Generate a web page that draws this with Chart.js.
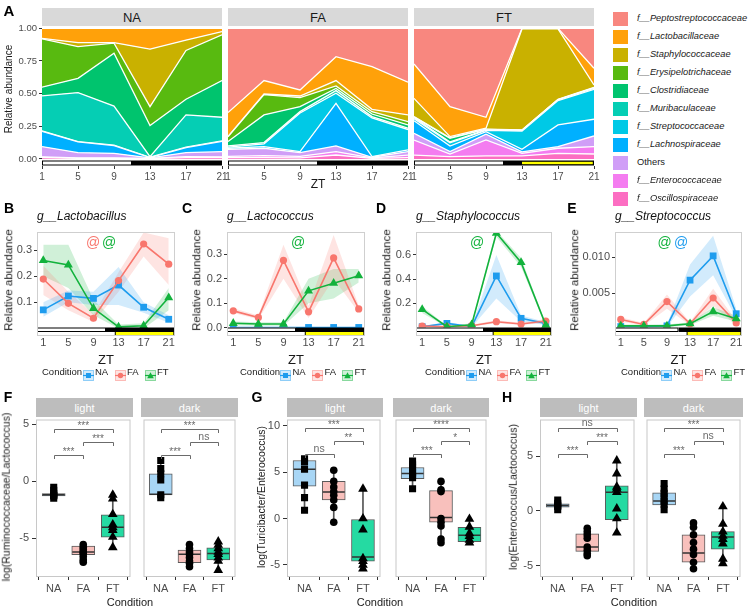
<!DOCTYPE html>
<html>
<head>
<meta charset="utf-8">
<script src="https://cdn.jsdelivr.net/npm/chart.js@4.4.1/dist/chart.umd.min.js"></script>
<style>
html,body{margin:0;padding:0;background:#fff;}
body{width:750px;height:608px;position:relative;overflow:hidden;font-family:"Liberation Sans",Arial,sans-serif;}
.t{position:absolute;white-space:nowrap;line-height:1;}
canvas{position:absolute;}
.strip{position:absolute;display:flex;align-items:center;justify-content:center;white-space:nowrap;}
</style>
</head>
<body>
<script>
// ================= DATA =================
const ZT = [1, 5, 9, 13, 17, 21];
const conditions = ['NA', 'FA', 'FT'];
const families = ['f__Peptostreptococcaceae','f__Lactobacillaceae','f__Staphylococcaceae','f__Erysipelotrichaceae','f__Clostridiaceae','f__Muribaculaceae','f__Streptococcaceae','f__Lachnospiraceae','Others','f__Enterococcaceae','f__Oscillospiraceae'];

// Panel A: relative abundance per family (same order as families) at each ZT
const abundNA = [
  [0,0,0,0,0,0],
  [0.077,0.11,0.11,0.16,0.09,0.025],
  [0.004,0.03,0.004,0.44,0.08,0.025],
  [0.37,0.243,0.076,0.145,0.373,0.35],
  [0.066,0.109,0.405,0.237,0.12,0.281],
  [0.268,0.375,0.30,0.005,0.247,0.181],
  [0.004,0.003,0.003,0.002,0.003,0.003],
  [0.116,0.082,0.059,0.003,0.039,0.079],
  [0.079,0.04,0.035,0.003,0.03,0.04],
  [0.005,0.004,0.004,0.002,0.008,0.006],
  [0.011,0.004,0.004,0.003,0.01,0.01]
];
const abundFA = [
  [0.645,0.40,0.472,0.217,0.293,0.413],
  [0.184,0.103,0.046,0.183,0.327,0.25],
  [0.002,0.005,0.012,0.041,0.018,0.051],
  [0.036,0.155,0.07,0.019,0.018,0.026],
  [0.033,0.212,0.038,0.017,0.02,0.025],
  [0.01,0.01,0.01,0.02,0.01,0.01],
  [0.008,0.021,0.296,0.077,0.296,0.156],
  [0.008,0.012,0.008,0.326,0.005,0.013],
  [0.054,0.057,0.028,0.044,0.005,0.026],
  [0.01,0.015,0.012,0.026,0.004,0.02],
  [0.01,0.01,0.008,0.03,0.004,0.01]
];
const abundFT = [
  [0.273,0.60,0.681,0,0,0.306],
  [0.263,0.229,0.084,0.005,0.005,0.128],
  [0.14,0.009,0.007,0.773,0.538,0.018],
  [0.004,0.004,0.002,0.002,0.003,0.004],
  [0.004,0.028,0.003,0.002,0.002,0.003],
  [0.008,0.006,0.004,0.004,0.005,0.008],
  [0.015,0.025,0.01,0.14,0.187,0.229],
  [0.097,0.043,0.019,0.02,0.166,0.128],
  [0.051,0.018,0.045,0.011,0.012,0.082],
  [0.115,0.02,0.122,0.02,0.039,0.056],
  [0.03,0.018,0.023,0.023,0.043,0.038]
];
const abundTicks = [0, 0.25, 0.5, 0.75, 1];

// Light / dark bars (ZT)
const lightSpanA = [1, 11], darkSpanA = [11, 21], yellowSpanA = [13, 21];
const lightSpan = [0, 11], darkSpan = [11, 22], yellowSpan = [12.4, 21.9];

// Panels B-E: mean and ribbon (rows: NA, FA, FT)
const lactobacillusMean = [[0.071,0.124,0.115,0.166,0.081,0.035],[0.189,0.096,0.039,0.183,0.323,0.246],[0.26,0.243,0.077,0.006,0.01,0.118]];
const lactobacillusLow  = [[0.045,0.1,0.09,0.09,0.06,0.022],[0.128,0.07,0.025,0.14,0.275,0.166],[0.2,0.155,0.05,0.0,0.0,0.07]];
const lactobacillusHigh = [[0.1,0.145,0.14,0.235,0.1,0.05],[0.24,0.14,0.055,0.215,0.367,0.345],[0.32,0.32,0.11,0.015,0.02,0.155]];
const lactobacillusTicks = ['0.1','0.2','0.3'];

const lactococcusMean = [[0.001,0.001,0.001,0.001,0.001,0.001],[0.069,0.042,0.276,0.065,0.286,0.077],[0.018,0.015,0.015,0.151,0.182,0.213]];
const lactococcusLow  = [[0.0,0.0,0.0,0.0,0.0,0.0],[0.06,0.035,0.2,0.04,0.2,0.062],[0.01,0.008,0.008,0.1,0.12,0.185]];
const lactococcusHigh = [[0.002,0.002,0.002,0.002,0.002,0.002],[0.08,0.05,0.34,0.09,0.38,0.09],[0.025,0.022,0.022,0.2,0.24,0.24]];
const lactococcusTicks = ['0.0','0.1','0.2','0.3'];

const staphylococcusMean = [[0.007,0.034,0.007,0.426,0.076,0.034],[0.012,0.007,0.015,0.048,0.029,0.054],[0.15,0.007,0.023,0.78,0.537,0.02]];
const staphylococcusLow  = [[0.002,0.02,0.002,0.24,0.05,0.02],[0.005,0.002,0.008,0.035,0.02,0.04],[0.12,0.002,0.01,0.75,0.5,0.01]];
const staphylococcusHigh = [[0.012,0.045,0.012,0.6,0.1,0.045],[0.02,0.012,0.022,0.06,0.04,0.07],[0.175,0.012,0.035,0.8,0.575,0.03]];
const staphylococcusTicks = ['0.2','0.4','0.6'];

const streptococcusMean = [[0.0003,0.0003,0.0004,0.0068,0.0102,0.0021],[0.0013,0.0006,0.0038,0.0007,0.0043,0.0008],[0.0004,0.0004,0.0004,0.0007,0.0024,0.0014]];
const streptococcusLow  = [[0.0001,0.0001,0.0002,0.0045,0.0075,0.0015],[0.001,0.0004,0.0028,0.0005,0.0032,0.0005],[0.0002,0.0002,0.0002,0.0005,0.0018,0.001]];
const streptococcusHigh = [[0.0005,0.0005,0.0006,0.009,0.013,0.0028],[0.0016,0.0008,0.0048,0.0009,0.0056,0.0011],[0.0006,0.0006,0.0006,0.0009,0.003,0.0018]];
const streptococcusTicks = ['0.005','0.010'];

// Panels F-H: box stats [lower whisker, q1, median, q3, upper whisker] per condition, and points
const sigPairs = [[1,2],[2,3],[1,3]];
const rumLacLightStats = [[-1.5,-1.3,-1.2,-1.1,-0.55],[-7.1,-6.45,-6.2,-5.7,-5.55],[-5.8,-4.9,-4.05,-2.95,-1.2]];
const rumLacLightPts = [[-0.55,-0.8,-1.1,-1.2,-1.25,-1.3,-1.5],[-5.55,-5.8,-6.0,-6.2,-6.35,-6.6,-6.9,-7.1],[-1.2,-1.55,-2.9,-3.8,-4.05,-4.3,-4.9,-5.8]];
const rumLacDarkStats = [[-1.45,-1.2,-1.15,0.65,1.8],[-7.5,-7.15,-6.4,-6.05,-5.55],[-7.8,-6.9,-6.35,-5.85,-5.3]];
const rumLacDarkPts = [[1.8,1.1,0.65,0.1,-1.2,-1.45],[-5.55,-5.9,-6.2,-6.4,-6.7,-7.0,-7.2,-7.5],[-5.3,-5.6,-5.9,-6.2,-6.4,-6.7,-7.0,-7.8]];
const rumLacSigY = [2.3, 3.4, 4.6];
const rumLacLightSig = ['***','***','***'];
const rumLacDarkSig = ['***','ns','***'];
const rumLacTicks = [-5, 0, 5];

const turEntLightStats = [[0.9,3.5,5.3,6.25,6.45],[-0.4,2.0,2.85,4.0,5.2],[-5.4,-4.6,-4.15,-0.1,3.2]];
const turEntLightPts = [[6.45,6.1,5.3,3.6,2.25,0.9],[5.2,4.0,3.4,2.9,2.5,2.0,1.2,-0.4],[3.2,0.0,-1.2,-4.3,-4.6,-5.0,-5.4]];
const turEntDarkStats = [[3.2,4.3,4.85,5.5,6.2],[-2.6,-0.4,0.1,3.0,4.0],[-2.7,-2.5,-1.8,-0.95,-0.05]];
const turEntDarkPts = [[6.2,5.8,5.5,5.0,4.7,4.4,3.2],[4.0,3.1,2.9,0.0,-0.4,-0.8,-2.2,-2.6],[-0.05,-0.9,-1.6,-1.9,-2.3,-2.6]];
const turEntSigY = [6.95, 8.3, 9.8];
const turEntLightSig = ['ns','**','***'];
const turEntDarkSig = ['***','*','****'];
const turEntTicks = [-5, 0, 5, 10];

const entLacLightStats = [[0.1,0.35,0.5,0.65,1.0],[-4.1,-3.7,-3.3,-2.1,-1.6],[-2.0,-0.8,1.7,2.3,4.6]];
const entLacLightPts = [[1.0,0.7,0.5,0.4,0.1],[-1.6,-1.9,-2.2,-2.5,-3.3,-3.6,-3.9,-4.1],[4.6,3.4,2.2,2.0,1.7,0.2,-0.7,-2.0]];
const entLacDarkStats = [[0.1,0.55,0.9,1.65,2.5],[-5.3,-4.7,-3.85,-2.2,-1.1],[-4.8,-3.5,-2.4,-1.9,0.4]];
const entLacDarkPts = [[2.5,2.0,1.6,1.3,0.9,0.6,0.1],[-1.1,-1.5,-2.2,-2.9,-3.5,-4.0,-4.7,-5.3],[0.4,-1.2,-1.9,-2.3,-2.6,-3.0,-4.4,-4.8]];
const entLacSigY = [5.2, 6.35, 7.55];
const entLacLightSig = ['***','***','ns'];
const entLacDarkSig = ['***','ns','***'];
const entLacTicks = [-5, 0, 5];

// ================= STYLES =================
const familyColors = ['#F8877F','#FFA10A','#C9B100','#58BA10','#00C46E','#05CEB4','#00C9E6','#00B0FF','#D09EF7','#F47CF0','#FC6EC2'];
const condColors = ['#1E9CEE','#F8766D','#12B23C'];
const condFill = ['rgba(30,156,238,0.2)','rgba(248,118,109,0.2)','rgba(18,178,60,0.2)'];
const condShapes = ['rect','circle','triangle'];
const condRadius = [4.8,3.6,5.2];
const boxFills = ['#A8D6F5','#F8C0BC','#25DAA2'];

Chart.defaults.font.family = '"Liberation Sans", Arial, sans-serif';
Chart.defaults.color = '#4D4D4D';

// ================= HELPERS =================
function txt(s, x, y, o = {}) {
  const d = document.createElement('div');
  d.className = 't';
  d.textContent = s;
  d.style.left = x + 'px'; d.style.top = y + 'px';
  d.style.fontSize = (o.size || 11) + 'px';
  if (o.bold) d.style.fontWeight = 'bold';
  if (o.italic) d.style.fontStyle = 'italic';
  d.style.color = o.color || '#000';
  const a = o.anchor || 'l';
  let tf = a === 'c' ? 'translate(-50%,-50%)' : a === 'r' ? 'translate(-100%,-50%)' : 'translate(0,-50%)';
  if (o.rot) tf = 'translate(-50%,-50%) rotate(-90deg)';
  d.style.transform = tf;
  document.body.appendChild(d);
  return d;
}
function strip(s, l, t, w, h, bg, color, size) {
  const d = document.createElement('div');
  d.className = 'strip';
  Object.assign(d.style, {left: l + 'px', top: t + 'px', width: w + 'px', height: h + 'px', background: bg, color: color, fontSize: size + 'px'});
  d.textContent = s;
  document.body.appendChild(d);
}
function mkChart(o, datasets, scales, plugins) {
  const m = 10;
  const l = o.area.l - o.yW - m, t = o.area.t - m;
  const w = o.area.r - o.area.l + o.yW + 2 * m, h = o.area.b - o.area.t + o.xH + 2 * m;
  const cv = document.createElement('canvas');
  cv.width = w; cv.height = h;
  cv.style.left = l + 'px'; cv.style.top = t + 'px';
  cv.style.width = w + 'px'; cv.style.height = h + 'px';
  document.body.appendChild(cv);
  scales.x.afterFit = s => { s.height = o.xH; };
  if (scales.y.display !== false) scales.y.afterFit = s => { s.width = o.yW; };
  const chart = new Chart(cv, {
    type: 'line',
    data: {datasets},
    options: {
      responsive: false, animation: false, events: [],
      layout: {padding: m},
      plugins: {legend: {display: false}, tooltip: {enabled: false}},
      scales
    },
    plugins: plugins || []
  });
  chart._left = l; chart._top = t;
  return chart;
}
const framePlugin = color => ({id: 'frame', afterDraw(c) {
  const a = c.chartArea, ctx = c.ctx;
  ctx.save(); ctx.strokeStyle = color; ctx.lineWidth = 1;
  ctx.strokeRect(a.left + 0.5, a.top + 0.5, a.width - 1, a.height - 1);
  ctx.restore();
}});

// ================= PANEL A =================
function ldBarA(withYellow) {
  return {id: 'ldA', afterDatasetsDraw(c) {
    const ctx = c.ctx, a = c.chartArea, X = v => c.scales.x.getPixelForValue(v);
    const y0 = a.bottom - 5.5, h = 5;
    ctx.save();
    ctx.fillStyle = '#000';
    ctx.fillRect(X(darkSpanA[0]), y0, X(darkSpanA[1]) - X(darkSpanA[0]), h);
    ctx.fillStyle = '#fff';
    ctx.fillRect(X(lightSpanA[0]), y0, X(lightSpanA[1]) - X(lightSpanA[0]), h);
    ctx.strokeStyle = '#000'; ctx.lineWidth = 1;
    ctx.strokeRect(X(lightSpanA[0]) + 0.5, y0 + 0.5, X(lightSpanA[1]) - X(lightSpanA[0]) - 1, h - 1);
    if (withYellow) {
      ctx.fillStyle = '#FFFF00';
      ctx.fillRect(X(yellowSpanA[0]), y0 + 1.3, X(yellowSpanA[1]) - X(yellowSpanA[0]) - 1.2, h - 2.6);
    }
    ctx.restore();
  }};
}
function areaFacet(area, abund, showY, withYellow) {
  const ds = [];
  for (let k = families.length - 1; k >= 0; k--) {
    ds.push({
      label: families[k],
      data: ZT.map((z, i) => ({x: z, y: abund[k][i]})),
      backgroundColor: familyColors[k], borderColor: '#fff', borderWidth: 1.3,
      pointRadius: 0, tension: 0, fill: ds.length === 0 ? 'origin' : '-1'
    });
  }
  const scales = {
    x: {type: 'linear', min: 1, max: 21, offset: false,
        afterBuildTicks: s => { s.ticks = ZT.map(v => ({value: v})); },
        ticks: {font: {size: 10}, color: '#4D4D4D', padding: 2, autoSkip: false, maxRotation: 0},
        grid: {drawOnChartArea: false, tickLength: 3, color: '#333'}, border: {display: false}},
    y: {type: 'linear', display: showY, stacked: true, min: -0.054, max: 1.01,
        afterBuildTicks: s => { s.ticks = abundTicks.map(v => ({value: v})); },
        ticks: {font: {size: 9.5}, color: '#4D4D4D', padding: 2, callback: v => v.toFixed(2)},
        grid: {drawOnChartArea: false, tickLength: 3, color: '#333'}, border: {display: false}}
  };
  return mkChart({area, yW: showY ? 42 : 0, xH: 18}, ds, scales, [ldBarA(withYellow)]);
}
const facetA = [{l: 42, r: 222, d: abundNA, n: 'NA'}, {l: 228, r: 408, d: abundFA, n: 'FA'}, {l: 414, r: 594, d: abundFT, n: 'FT'}];
facetA.forEach((f, i) => {
  strip(f.n, f.l, 8, f.r - f.l, 18, '#D9D9D9', '#1A1A1A', 13);
  areaFacet({l: f.l, r: f.r, t: 27, b: 166}, f.d, i === 0, i === 2);
});
txt('A', 9, 10, {size: 15, bold: true, anchor: 'c'});
txt('Relative abundance', 9, 89, {size: 10, rot: true, color: '#1A1A1A'});
txt('ZT', 318, 184, {size: 12, anchor: 'c', color: '#1A1A1A'});
families.forEach((f, i) => {
  const cy = 19.3 + 18 * i;
  const sq = document.createElement('div');
  Object.assign(sq.style, {position: 'absolute', left: '613px', top: (cy - 7) + 'px', width: '15px', height: '14px', background: familyColors[i]});
  document.body.appendChild(sq);
  txt(f, 637, cy, {size: 9.3, italic: f !== 'Others', color: '#1A1A1A'});
});

// ================= PANELS B-E =================
function ldBarLine() {
  return {id: 'ldL', afterDatasetsDraw(c) {
    const ctx = c.ctx, a = c.chartArea, X = v => c.scales.x.getPixelForValue(v);
    ctx.save();
    const y1 = a.bottom - 8.5, h1 = 4.5;
    ctx.fillStyle = '#000';
    ctx.fillRect(X(darkSpan[0]), y1, X(darkSpan[1]) - X(darkSpan[0]), h1);
    ctx.fillStyle = '#fff';
    ctx.fillRect(X(lightSpan[0]), y1, X(lightSpan[1]) - X(lightSpan[0]), h1);
    ctx.strokeStyle = '#000'; ctx.lineWidth = 1;
    ctx.strokeRect(X(lightSpan[0]) + 0.5, y1 + 0.5, X(lightSpan[1]) - X(lightSpan[0]) - 1, h1 - 1);
    const y2 = a.bottom - 4.5, h2 = 4.5;
    ctx.fillStyle = '#000';
    ctx.fillRect(X(yellowSpan[0]), y2, X(yellowSpan[1]) - X(yellowSpan[0]), h2);
    ctx.fillStyle = '#FFFF00';
    ctx.fillRect(X(yellowSpan[0]) + 1, y2 + 0.5, X(yellowSpan[1]) - X(yellowSpan[0]) - 2, h2 - 1.5);
    ctx.restore();
  }};
}
function linePanel(o) {
  const ds = [];
  for (let c = 0; c < 3; c++) {
    ds.push({data: ZT.map((z, i) => ({x: z, y: o.high[c][i]})), borderWidth: 0, pointRadius: 0, fill: '+1', backgroundColor: condFill[c], order: 10});
    ds.push({data: ZT.map((z, i) => ({x: z, y: o.low[c][i]})), borderWidth: 0, pointRadius: 0, fill: false, order: 10});
  }
  for (let c = 0; c < 3; c++) {
    ds.push({data: ZT.map((z, i) => ({x: z, y: o.mean[c][i]})), borderColor: condColors[c], backgroundColor: condColors[c],
      borderWidth: 1.6, pointStyle: condShapes[c], pointRadius: condRadius[c], pointBorderWidth: 0,
      pointBackgroundColor: condColors[c], fill: false, tension: 0, order: 3 - c});
  }
  const yVals = o.ticks.map(Number);
  const scales = {
    x: {type: 'linear', min: 0, max: 22, offset: false,
        afterBuildTicks: s => { s.ticks = ZT.map(v => ({value: v})); },
        ticks: {font: {size: 11}, color: '#4D4D4D', padding: 0, autoSkip: false, maxRotation: 0},
        grid: {drawOnChartArea: false, drawTicks: false, tickLength: 0}, border: {display: false}},
    y: {type: 'linear', min: o.yMin, max: o.yMax,
        afterBuildTicks: s => { s.ticks = yVals.map(v => ({value: v})); },
        ticks: {font: {size: 11}, color: '#4D4D4D', padding: 2, callback: (v, i) => o.ticks[i]},
        grid: {drawOnChartArea: false, tickLength: 3, color: '#333'}, border: {display: false}}
  };
  mkChart({area: o.area, yW: o.yW, xH: 14}, ds, scales, [ldBarLine(), framePlugin('#CFCFCF')]);
  // texts
  txt(o.letter, o.letterX, 208, {size: 14, bold: true, anchor: 'c'});
  txt(o.title, o.area.l, 216, {size: 12, italic: true, color: '#111'});
  txt('Relative abundance', o.yTitleX, 280, {size: 11.5, rot: true, color: '#1A1A1A'});
  txt('ZT', (o.area.l + o.area.r) / 2, 359, {size: 13, anchor: 'c', color: '#1A1A1A'});
  o.ats.forEach(a => txt('@', a[0], 242, {size: 14, anchor: 'c', color: condColors[a[1]]}));
  // legend
  txt('Condition', o.legX, 372, {size: 9.5, color: '#1A1A1A'});
  o.keyX.forEach((kx, c) => {
    const shape = c === 0 ? `<rect x="3" y="3" width="5" height="5" fill="${condColors[c]}"/>` :
                  c === 1 ? `<circle cx="5.5" cy="5.5" r="2.7" fill="${condColors[c]}"/>` :
                  `<polygon points="5.5,2.2 8.8,8.3 2.2,8.3" fill="${condColors[c]}"/>`;
    const w = document.createElement('div');
    w.style.position = 'absolute'; w.style.left = kx + 'px'; w.style.top = '366.5px';
    w.innerHTML = `<svg width="11" height="11"><rect x="0.5" y="0.5" width="10" height="10" fill="${condFill[c]}" stroke="${condFill[c].replace('0.2)', '0.45)')}"/><line x1="0" y1="5.5" x2="11" y2="5.5" stroke="${condColors[c]}" stroke-width="1.2"/>${shape}</svg>`;
    document.body.appendChild(w);
    txt(conditions[c], kx + 12.5, 372, {size: 9.5, color: '#1A1A1A'});
  });
}
linePanel({area: {l: 37, r: 175, t: 232, b: 336}, yW: 30, yMin: -0.029, yMax: 0.369, ticks: lactobacillusTicks,
  mean: lactobacillusMean, low: lactobacillusLow, high: lactobacillusHigh, letter: 'B', letterX: 9, title: 'g__Lactobacillus',
  yTitleX: 8.5, ats: [[93, 1], [109, 2]], legX: 42, keyX: [82.5, 114.5, 144.5]});
linePanel({area: {l: 227, r: 365, t: 232, b: 336}, yW: 30, yMin: -0.034, yMax: 0.392, ticks: lactococcusTicks,
  mean: lactococcusMean, low: lactococcusLow, high: lactococcusHigh, letter: 'C', letterX: 187, title: 'g__Lactococcus',
  yTitleX: 197, ats: [[298, 2]], legX: 240, keyX: [280, 312, 342]});
linePanel({area: {l: 416, r: 552, t: 232, b: 336}, yW: 30, yMin: -0.07, yMax: 0.789, ticks: staphylococcusTicks,
  mean: staphylococcusMean, low: staphylococcusLow, high: staphylococcusHigh, letter: 'D', letterX: 381, title: 'g__Staphylococcus',
  yTitleX: 387, ats: [[477, 2]], legX: 425, keyX: [466, 497, 526]});
linePanel({area: {l: 615, r: 742, t: 232, b: 336}, yW: 40, yMin: -0.00102, yMax: 0.01354, ticks: streptococcusTicks,
  mean: streptococcusMean, low: streptococcusLow, high: streptococcusHigh, letter: 'E', letterX: 572, title: 'g__Streptococcus',
  yTitleX: 575, ats: [[664.5, 2], [681, 0]], legX: 621, keyX: [661, 692, 721]});

// ================= PANELS F-H =================
const sigPlugin = (sigY) => ({id: 'sig', afterDatasetsDraw(c) {
  const ctx = c.ctx, X = v => c.scales.x.getPixelForValue(v), Y = v => c.scales.y.getPixelForValue(v);
  ctx.save(); ctx.strokeStyle = '#6B6B6B'; ctx.lineWidth = 1;
  sigPairs.forEach((p, j) => {
    const y = Math.round(Y(sigY[j])) + 0.5, x1 = Math.round(X(p[0])) + 0.5, x2 = Math.round(X(p[1])) + 0.5;
    ctx.beginPath(); ctx.moveTo(x1, y + 3.5); ctx.lineTo(x1, y); ctx.lineTo(x2, y); ctx.lineTo(x2, y + 3.5); ctx.stroke();
  });
  ctx.restore();
}});
function boxFacet(o) {
  const ds = [];
  ds.push({type: 'bar', data: o.stats.map((s, i) => ({x: i + 1, y: [s[0], s[4]]})), backgroundColor: '#555', barThickness: 1, grouped: false, order: 5});
  ds.push({type: 'bar', data: o.stats.map((s, i) => ({x: i + 1, y: [s[1], s[3]]})), backgroundColor: boxFills, borderColor: '#5A5A5A',
    borderWidth: 1, borderSkipped: false, barThickness: 23, grouped: false, order: 4});
  ds.push({data: o.stats.map((s, i) => ({x: i + 1, y: s[2]})), showLine: false, pointStyle: 'line', pointRadius: 11, pointBorderColor: '#333',
    pointBorderWidth: 1.5, order: 3});
  o.pts.forEach((arr, c) => ds.push({data: arr.map(v => ({x: c + 1, y: v})), showLine: false, pointStyle: condShapes[c],
    pointRadius: [5, 3.8, 5.6][c], pointBackgroundColor: '#000', pointBorderColor: '#000', pointBorderWidth: 0, order: 1}));
  const scales = {
    x: {type: 'linear', min: 0.4, max: 3.6, offset: false,
        afterBuildTicks: s => { s.ticks = [1, 2, 3].map(v => ({value: v})); },
        ticks: {font: {size: 11}, color: '#4D4D4D', padding: 2, autoSkip: false, maxRotation: 0, callback: v => conditions[v - 1]},
        grid: {drawOnChartArea: false, tickLength: 3, color: '#333'}, border: {display: false}},
    y: {type: 'linear', display: o.showY, min: o.yMin, max: o.yMax,
        afterBuildTicks: s => { s.ticks = o.yTicks.map(v => ({value: v})); },
        ticks: {font: {size: 11}, color: '#4D4D4D', padding: 3, callback: v => String(v)},
        grid: {drawOnChartArea: false, tickLength: 4, color: '#333'}, border: {display: false}}
  };
  const ch = mkChart({area: o.area, yW: o.showY ? 30 : 0, xH: 18}, ds, scales, [framePlugin('#C8C8C8'), sigPlugin(o.sigY)]);
  strip(o.facet, o.area.l, 398, o.area.r - o.area.l, 19, '#BDBDBD', '#fff', 11);
  sigPairs.forEach((p, j) => {
    const x = ch._left + ch.scales.x.getPixelForValue((p[0] + p[1]) / 2);
    const y = ch._top + ch.scales.y.getPixelForValue(o.sigY[j]);
    const lab = o.sig[j];
    if (lab === 'ns') txt(lab, x, y - 6, {size: 10.5, anchor: 'c', color: '#6B6B6B'});
    else txt(lab, x, y - 3, {size: 10, anchor: 'c', color: '#6B6B6B'});
  });
  return ch;
}
function boxPanel(p) {
  boxFacet({area: {l: p.l1, r: p.r1, t: 417, b: p.b}, showY: true, yMin: p.yMin, yMax: p.yMax, yTicks: p.ticks, stats: p.ls, pts: p.lp, sigY: p.sigY, sig: p.lsig, facet: 'light'});
  boxFacet({area: {l: p.l2, r: p.r2, t: 417, b: p.b}, showY: false, yMin: p.yMin, yMax: p.yMax, yTicks: p.ticks, stats: p.ds, pts: p.dp, sigY: p.sigY, sig: p.dsig, facet: 'dark'});
  txt(p.letter, p.letterX, 397, {size: 14, bold: true, anchor: 'c'});
  txt(p.ytitle, p.ytX, 497, {size: 10.5, rot: true, color: '#1A1A1A'});
  txt('Condition', p.condX, 602, {size: 11, anchor: 'c', color: '#1A1A1A'});
}
boxPanel({l1: 36, r1: 133, l2: 141, r2: 238, b: 577, yMin: -8.4, yMax: 5.4, ticks: rumLacTicks, ls: rumLacLightStats, lp: rumLacLightPts,
  ds: rumLacDarkStats, dp: rumLacDarkPts, sigY: rumLacSigY, lsig: rumLacLightSig, dsig: rumLacDarkSig,
  letter: 'F', letterX: 8, ytitle: 'log(Ruminococcaceae/Lactococcus)', ytX: 6, condX: 130});
boxPanel({l1: 287, r1: 383, l2: 393, r2: 489, b: 577, yMin: -6.3, yMax: 10.67, ticks: turEntTicks, ls: turEntLightStats, lp: turEntLightPts,
  ds: turEntDarkStats, dp: turEntDarkPts, sigY: turEntSigY, lsig: turEntLightSig, dsig: turEntDarkSig,
  letter: 'G', letterX: 257, ytitle: 'log(Turicibacter/Enterococcus)', ytX: 261, condX: 380});
boxPanel({l1: 540, r1: 637, l2: 644, r2: 743, b: 577, yMin: -6.05, yMax: 8.36, ticks: entLacTicks, ls: entLacLightStats, lp: entLacLightPts,
  ds: entLacDarkStats, dp: entLacDarkPts, sigY: entLacSigY, lsig: entLacLightSig, dsig: entLacDarkSig,
  letter: 'H', letterX: 507, ytitle: 'log(Enterococcus/Lactococcus)', ytX: 513, condX: 634});
</script>
</body>
</html>
